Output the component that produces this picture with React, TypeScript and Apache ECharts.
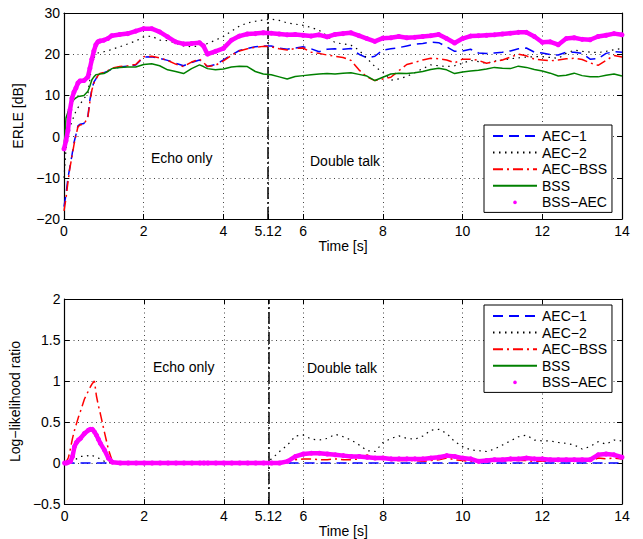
import React, { useEffect, useRef } from "react";
import * as echarts from "echarts";

// ---------- data ----------
const TIME = [
  0, 0.05, 0.1, 0.15, 0.2, 0.25, 0.3, 0.35, 0.4, 0.5, 0.6, 0.65, 0.7, 0.75, 0.8, 0.85, 0.9, 1.0,
  1.1, 1.2, 1.4, 1.6, 1.8, 2.0, 2.2, 2.4, 2.6, 2.8, 3.0, 3.2, 3.4, 3.5, 3.6,
  3.8, 4.0, 4.2, 4.4, 4.6, 4.8, 5.0, 5.2, 5.4, 5.6, 5.8, 6.0, 6.2, 6.4, 6.6, 6.8, 7.0, 7.2, 7.4, 7.6, 7.8, 8.0, 8.2, 8.4, 8.6, 8.8,
  9.0, 9.2, 9.4, 9.6, 9.8, 10.0, 10.2, 10.4, 10.6, 10.8, 11.0, 11.2, 11.4, 11.6, 11.8, 12.0, 12.2, 12.4, 12.6, 12.8, 13.0, 13.2, 13.4, 13.6, 13.8, 14.0,
];

const X_TICKS = [0, 2, 4, 5.12, 6, 8, 10, 12, 14];
const DOUBLE_TALK_START = 5.12;
const SERIES_NAMES = ["AEC−1", "AEC−2", "AEC−BSS", "BSS", "BSS−AEC"];

// ERLE [dB]
const ERLE_AEC1 = [
  -17, -14, -10, -7.3, -4.5, -1.5, 0.5, 2.6, 3, 3.2, 5, 8.9, 11.6, 13.2, 14, 14.9, 15.2, 15.5,
  15.9, 16.4, 16.9, 17.1, 17.4, 19.3, 19.4, 19, 18.5, 17.8, 17.2, 18, 18.6, 17.8, 17,
  17.5, 18.6, 19.8, 20.9, 21.4, 21.8, 22, 22, 21.5, 21.2, 21.5, 21.8, 21.3, 20.6, 21.2, 21.3, 21.2, 21.4, 20, 19.1, 19.5, 21, 21.3, 21.6, 22, 22.4,
  22.6, 22.9, 22.8, 21.8, 20.7, 20.8, 21.2, 20.3, 20.2, 20.3, 20.5, 20.8, 21.3, 21.5, 20.5, 20.3, 19.9, 19.8, 20.5, 20.5, 20.2, 18.8, 18.9, 20.2, 20.6, 20.5,
];
const ERLE_AEC2 = [
  -10, -3, 1, 2.5, 3.6, 5, 6.2, 7, 7.8, 9.2, 10.5, 14, 17.6, 19, 20, 20.3, 20.4, 20.6,
  20.8, 21.2, 21.8, 22.5, 23.2, 24.2, 24.4, 23.4, 23.3, 22.7, 22, 21.8, 22, 22.3, 22.6,
  23.4, 24.3, 25.6, 26.8, 27.6, 28, 28.3, 28.5, 28.2, 27.6, 27.3, 27, 26.5, 25.8, 24.5, 22.8, 22.5, 22.2, 21, 19, 17, 15.6, 13.7, 14, 14.6, 15.5,
  16.5, 17.4, 17.2, 17, 17.2, 17.8, 18.5, 18.2, 17.8, 18.3, 18.6, 18.9, 19.1, 19.3, 19.4, 19.4, 19.2, 19, 20.2, 21, 20.7, 20.5, 20.4, 20.7, 21.1, 21.4,
];
const ERLE_AECBSS = [
  -18, -15, -11, -7.5, -4.8, -2, 0.3, 2.4, 2.8, 3, 4.7, 8.5, 11.3, 13, 13.9, 14.8, 15.3, 15.6,
  16, 16.6, 17, 17.2, 17.5, 19.4, 19.5, 19.1, 18.5, 17.6, 17, 18.1, 18.8, 18, 17,
  17.3, 18.4, 19.7, 20.8, 21.3, 21.7, 21.9, 21.8, 21.3, 21, 21.4, 21.5, 20.5, 20.2, 19.8, 19.5, 19.2, 18.5, 16.2, 14.5, 13.6, 14, 14.4, 16, 17.5, 18,
  18.6, 19, 18.9, 18.6, 17.9, 18.8, 18.8, 18.5, 17.8, 18.2, 18.6, 19.3, 20, 19.6, 18.8, 18.6, 18.4, 18.6, 18.9, 19, 18.7, 17.9, 17.3, 18.5, 19.7, 19.3,
];
const ERLE_BSS = [
  -3, 4.5, 6, 7, 8.3, 9, 9.4, 9.7, 9.8, 10, 11, 12.3, 13.8, 14.5, 15, 15.1, 15.2, 15.3,
  15.8, 16.5, 16.8, 16.9, 16.9, 17.5, 17.7, 17.2, 16.2, 15.8, 15.3, 16.5, 17.4, 17, 16.5,
  16.2, 16.4, 16.9, 17.1, 17, 15.8, 15.2, 15, 14.5, 14, 14.6, 14.8, 15, 15.2, 15.3, 15.2, 15.4, 15.5, 15.1, 14.7, 13.6, 14.4, 15.2, 15.4, 15.3, 15.5,
  15.8, 16.3, 16.6, 16.2, 15.3, 15.7, 15.9, 16.1, 16.4, 16.8, 16.6, 16.5, 17.1, 16.8, 16.3, 15.9, 15.4, 14.7, 14.9, 15.4, 14.8, 14.5, 14.5, 14.9, 15.2, 14.7,
];
const ERLE_BSSAEC = [
  -3, -1, 1.5, 6.5, 9.3, 10.8, 11.8, 13, 13.5, 13.6, 14.5, 16.6, 18.8, 20.8, 22.3, 23, 23.2, 23.4,
  23.8, 24.5, 24.8, 25, 25.6, 26.2, 26.2, 25.4, 24.2, 23, 22.5, 22.6, 22.8, 22, 20,
  20.7, 21.4, 23.4, 24.4, 24.9, 25, 25.2, 25.1, 24.9, 24.7, 24.8, 24.6, 24.4, 24.7, 24.2, 24.8, 25, 25.2, 24.5, 23.8, 23.1, 23.9, 24, 24.3, 24, 24.1,
  24.3, 24.5, 24.8, 23.8, 22.7, 23.8, 24.4, 24.5, 24.6, 24.7, 24.9, 25.1, 25.3, 25.3, 24.3, 22.9, 23, 22.3, 23.8, 24, 23.6, 23.5, 24.3, 24.6, 25, 24.7,
];

// Log-likelihood ratio
const LLR_AEC1 = [
  0, 0, 0, 0, 0, 0, 0, 0, 0, 0, 0, 0, 0, 0, 0, 0, 0, 0,
  0, 0, 0, 0, 0, 0, 0, 0, 0, 0, 0, 0, 0, 0, 0,
  0, 0, 0, 0, 0, 0, 0, 0, 0, 0, 0, 0, 0, 0, 0, 0, 0, 0, 0, 0, 0, 0, 0, 0, 0, 0,
  0, 0, 0, 0, 0, 0, 0, 0, 0, 0, 0, 0, 0, 0, 0, 0, 0, 0, 0, 0, 0, 0, 0, 0, 0, 0,
];
const LLR_AEC2 = [
  0, 0, 0.01, 0.02, 0.03, 0.04, 0.05, 0.06, 0.08, 0.08, 0.09, 0.1, 0.09, 0.08, 0.07, 0.06, 0.05, 0.02,
  0.01, 0, 0, 0, 0, 0, 0, 0, 0, 0, 0, 0, 0, 0, 0,
  0, 0, 0, 0, 0, 0, 0, 0.05, 0.14, 0.22, 0.33, 0.34, 0.29, 0.28, 0.3, 0.35, 0.32, 0.28, 0.22, 0.15, 0.14, 0.25, 0.3, 0.33, 0.3, 0.29,
  0.33, 0.4, 0.41, 0.36, 0.26, 0.2, 0.16, 0.15, 0.14, 0.17, 0.22, 0.27, 0.32, 0.34, 0.28, 0.27, 0.27, 0.25, 0.24, 0.22, 0.17, 0.2, 0.26, 0.23, 0.28, 0.27,
];
const LLR_AECBSS = [
  0, 0.02, 0.07, 0.18, 0.3, 0.4, 0.48, 0.56, 0.63, 0.78, 0.88, 0.93, 0.97, 1.0, 0.82, 0.7, 0.6, 0.38,
  0.17, 0.02, 0, 0, 0, 0, 0, 0, 0, 0, 0, 0, 0, 0, 0,
  0, 0, 0, 0, 0, 0, 0, 0, 0, 0.02, 0.04, 0.05, 0.05, 0.04, 0.04, 0.05, 0.04, 0.04, 0.05, 0.1, 0.04, 0.08, 0.03, 0.03, 0.03, 0.03,
  0.02, 0.03, 0.04, 0.06, 0.04, 0.03, 0.02, 0.01, 0.02, 0.02, 0.02, 0.03, 0.03, 0.03, 0.02, 0.02, 0.02, 0.02, 0.02, 0.02, 0.02, 0.02, 0.06, 0.05, 0.06, 0.05,
];
const LLR_BSS = [
  0, 0, 0.01, 0.02, 0.08, 0.2, 0.25, 0.28, 0.3, 0.36, 0.4, 0.41, 0.41, 0.38, 0.34, 0.29, 0.24, 0.16,
  0.06, 0.01, 0, 0, 0, 0, 0, 0, 0, 0, 0, 0, 0, 0, 0,
  0, 0, 0, 0, 0, 0, 0, 0, 0, 0.02, 0.08, 0.11, 0.12, 0.12, 0.11, 0.1, 0.09, 0.08, 0.08, 0.07, 0.06, 0.06, 0.05, 0.05, 0.05, 0.05,
  0.05, 0.06, 0.07, 0.09, 0.08, 0.06, 0.05, 0.02, 0.03, 0.04, 0.04, 0.05, 0.05, 0.06, 0.05, 0.05, 0.04, 0.04, 0.04, 0.04, 0.04, 0.04, 0.1, 0.11, 0.1, 0.07,
];
const LLR_BSSAEC = [
  0, 0, 0.01, 0.02, 0.08, 0.2, 0.25, 0.28, 0.3, 0.36, 0.4, 0.41, 0.41, 0.38, 0.34, 0.29, 0.24, 0.16,
  0.06, 0.01, 0, 0, 0, 0, 0, 0, 0, 0, 0, 0, 0, 0, 0,
  0, 0, 0, 0, 0, 0, 0, 0, 0, 0.02, 0.08, 0.11, 0.12, 0.12, 0.11, 0.1, 0.09, 0.08, 0.08, 0.07, 0.06, 0.06, 0.05, 0.05, 0.05, 0.05,
  0.05, 0.06, 0.07, 0.09, 0.08, 0.06, 0.05, 0.02, 0.03, 0.04, 0.04, 0.05, 0.05, 0.06, 0.05, 0.05, 0.04, 0.04, 0.04, 0.04, 0.04, 0.04, 0.1, 0.11, 0.1, 0.07,
];

// ---------- styling ----------
const FONT = "Liberation Sans, Arial, Helvetica, sans-serif";
const COLORS = ["#0000ff", "#000000", "#ff0000", "#008000", "#ff00ff"];

const minus = (v: number | string) => String(v).replace("-", "−");

function pairs(arr: number[]) {
  return TIME.map((t, i) => [t, arr[i]]);
}

function lineSeries(idx: number, values: number[], axis: number, withMark: boolean) {
  const name = SERIES_NAMES[idx];
  const color = COLORS[idx];
  const styles: any[] = [
    { width: 1.5, type: [10, 6] },
    { width: 1.2, type: [1.5, 4.5] },
    { width: 1.5, type: [10, 4, 2, 4] },
    { width: 1.5, type: "solid" },
    { width: 4.5, type: "solid" },
  ];
  const s: any = {
    name,
    type: "line",
    xAxisIndex: axis * 2,
    yAxisIndex: axis * 2,
    data: pairs(values),
    symbol: idx === 4 ? "circle" : "none",
    symbolSize: 5,
    showSymbol: idx === 4,
    clip: true,
    silent: true,
    itemStyle: { color },
    lineStyle: { color, ...styles[idx], cap: "butt" },
    z: 2 + idx,
  };
  if (withMark) {
    s.markLine = {
      silent: true,
      symbol: "none",
      label: { show: false },
      lineStyle: { color: "#000", width: 1.5, type: [12, 3, 2, 3] },
      data: [{ xAxis: DOUBLE_TALK_START }],
    };
  }
  return s;
}

function makeAxes(gridIndex: number, yMin: number, yMax: number, yInterval: number, yName: string, yNameGap: number) {
  const tickInside = { show: true, inside: true, length: 5, lineStyle: { color: "#000", width: 1 } };
  const splitDotted = { show: true, lineStyle: { color: "#444", width: 1, type: [1, 3.5] } };
  const axisLine = { show: true, onZero: false, lineStyle: { color: "#000", width: 1.2 } };
  const labelStyle = { color: "#000", fontSize: 14, fontFamily: FONT };
  const xBottom = {
    type: "value",
    gridIndex,
    min: 0,
    max: 14,
    interval: 2,
    position: "bottom",
    axisLine,
    axisTick: { ...tickInside, customValues: X_TICKS },
    axisLabel: { ...labelStyle, margin: 5, customValues: X_TICKS, formatter: (v: number) => minus(v) },
    splitLine: splitDotted,
    name: "Time [s]",
    nameLocation: "middle",
    nameGap: 20,
    nameTextStyle: { ...labelStyle },
  };
  const xTop = {
    type: "value",
    gridIndex,
    min: 0,
    max: 14,
    interval: 2,
    position: "top",
    axisLine,
    axisTick: { ...tickInside, customValues: X_TICKS },
    axisLabel: { show: false },
    splitLine: { show: false },
  };
  const yLeft = {
    type: "value",
    gridIndex,
    min: yMin,
    max: yMax,
    interval: yInterval,
    position: "left",
    axisLine,
    axisTick: tickInside,
    axisLabel: { ...labelStyle, margin: 4, formatter: (v: number) => minus(v) },
    splitLine: splitDotted,
    name: yName,
    nameLocation: "middle",
    nameGap: yNameGap,
    nameTextStyle: { ...labelStyle },
  };
  const yRight = {
    type: "value",
    gridIndex,
    min: yMin,
    max: yMax,
    interval: yInterval,
    position: "right",
    axisLine,
    axisTick: tickInside,
    axisLabel: { show: false },
    splitLine: { show: false },
  };
  return { x: [xBottom, xTop], y: [yLeft, yRight] };
}

const DOT_ICON = "path://M0,0M44,14M20.2,7a1.8,1.8 0 1,0 3.6,0a1.8,1.8 0 1,0 -3.6,0";

function legendAt(top: number) {
  return {
    show: true,
    orient: "vertical",
    left: 484,
    top,
    selectedMode: false,
    backgroundColor: "#fff",
    borderColor: "#000",
    borderWidth: 1,
    padding: [4, 5, 3, 8],
    itemWidth: 44,
    itemHeight: 14,
    itemGap: 2.6,
    textStyle: { color: "#000", fontSize: 14, fontFamily: FONT },
    data: SERIES_NAMES.map((n, i) =>
      i === 4
        ? { name: n, icon: DOT_ICON }
        : { name: n, itemStyle: { opacity: 0, color: "rgba(0,0,0,0)", borderWidth: 0 } }
    ),
    z: 20,
  };
}

function textEl(text: string, x: number, y: number) {
  return {
    type: "text",
    left: x,
    top: y,
    silent: true,
    z: 30,
    style: { text, fill: "#000", fontSize: 14, fontFamily: FONT },
  };
}

export default function App() {
  const ref = useRef<HTMLDivElement>(null);
  useEffect(() => {
    document.body.style.margin = "0";
    if (!ref.current) return;
    const chart = echarts.init(ref.current, null, { renderer: "svg" });
    const a1 = makeAxes(0, -20, 30, 10, "ERLE [dB]", 37);
    const a2 = makeAxes(1, -0.5, 2, 0.5, "Log−likelihood ratio", 40);
    const erle = [ERLE_AEC1, ERLE_AEC2, ERLE_AECBSS, ERLE_BSS, ERLE_BSSAEC];
    const llr = [LLR_AEC1, LLR_AEC2, LLR_AECBSS, LLR_BSS, LLR_BSSAEC];
    const series: any[] = [];
    erle.forEach((v, i) => series.push(lineSeries(i, v, 0, i === 0)));
    llr.forEach((v, i) => series.push(lineSeries(i, v, 1, i === 0)));
    chart.setOption({
      animation: false,
      backgroundColor: "#fff",
      grid: [
        { left: 64, top: 13, width: 558, height: 206, containLabel: false },
        { left: 64, top: 299, width: 558, height: 205, containLabel: false },
      ],
      xAxis: [...a1.x, ...a2.x],
      yAxis: [...a1.y, ...a2.y],
      legend: [legendAt(125), legendAt(305)],
      series,
      graphic: [
        textEl("Echo only", 151, 151),
        textEl("Double talk", 310, 154),
        textEl("Echo only", 153, 360),
        textEl("Double talk", 307, 361),
      ],
    });
    return () => chart.dispose();
  }, []);
  return (
    <div
      ref={ref}
      style={{ position: "absolute", left: 0, top: 0, width: 643, height: 539, background: "#fff" }}
    />
  );
}
